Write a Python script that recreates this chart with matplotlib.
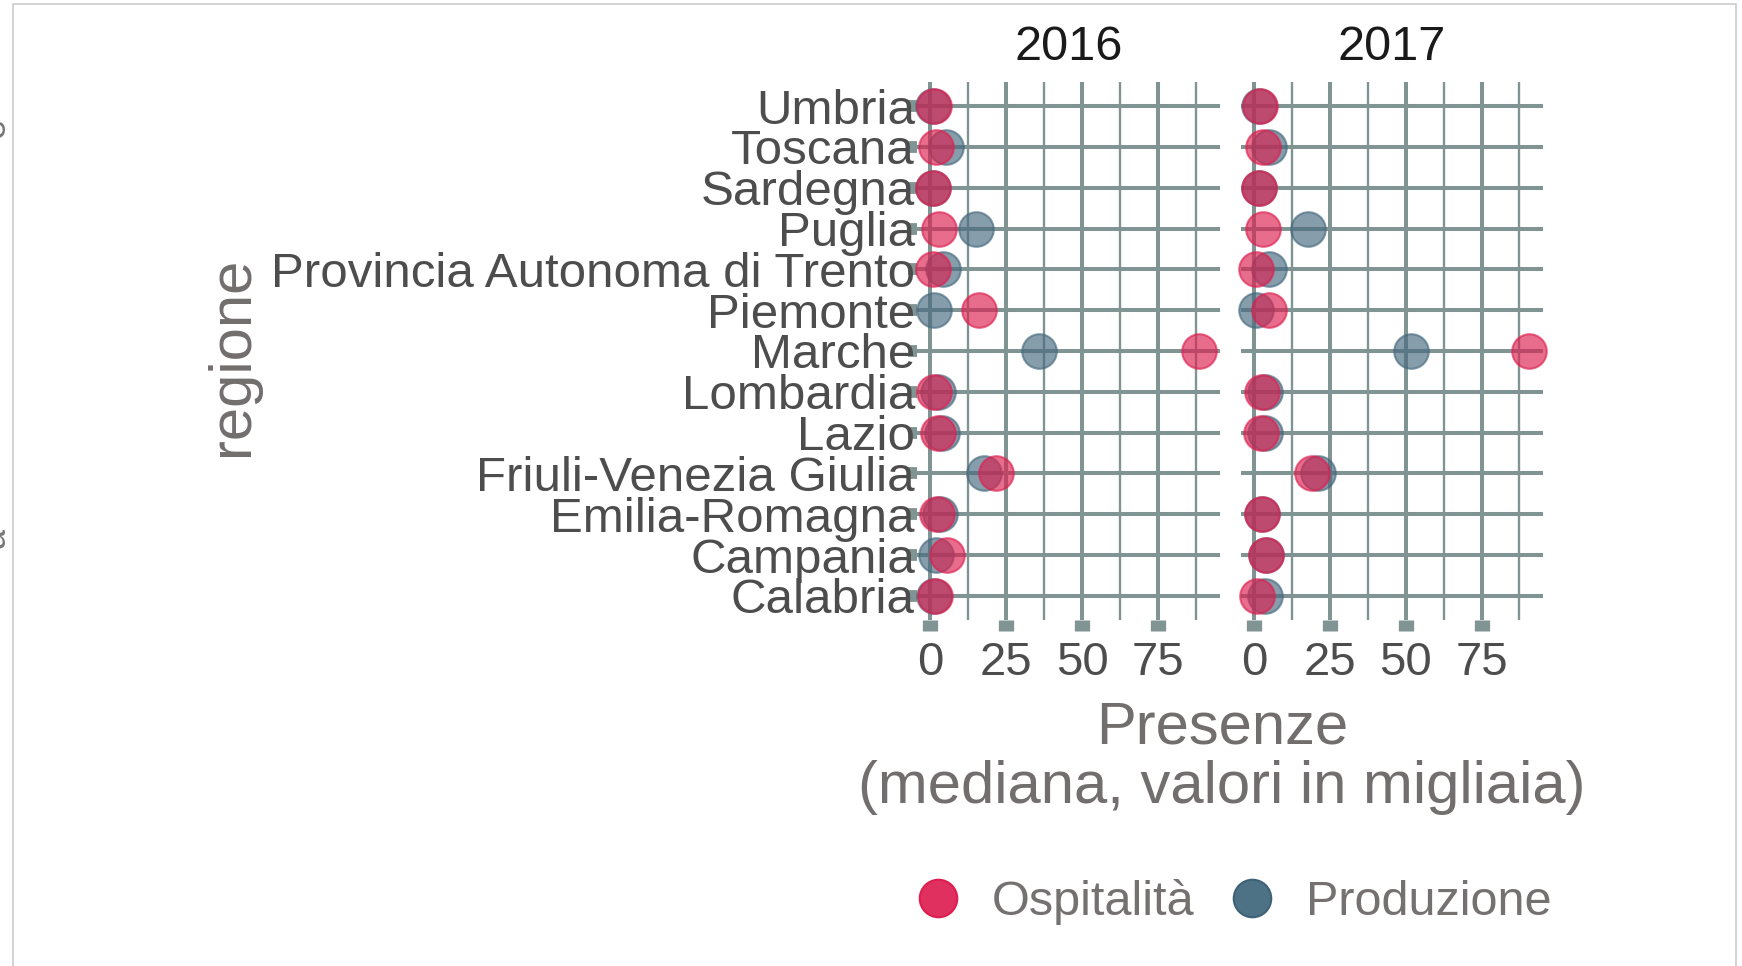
import matplotlib
matplotlib.use("Agg")
import matplotlib.pyplot as plt
from matplotlib.lines import Line2D
from matplotlib.patches import Rectangle
import numpy as np

plt.rcParams["font.family"] = ["Liberation Sans", "DejaVu Sans"]

# data (presenze, mediana, migliaia)
regioni = [
    "Calabria", "Campania", "Emilia-Romagna", "Friuli-Venezia Giulia",
    "Lazio", "Lombardia", "Marche", "Piemonte",
    "Provincia Autonoma di Trento", "Puglia", "Sardegna", "Toscana", "Umbria",
]
anni = ["2016", "2017"]
ospitalita_2016 = [1.4, 5.5, 2.3, 21.6, 2.6, 1.3, 88.3, 16.0, 0.8, 2.7, 1.0, 1.9, 1.3]
produzione_2016 = [1.2, 1.8, 3.2, 17.8, 3.8, 2.4, 35.7, 1.1, 4.3, 15.0, 1.0, 5.0, 1.0]
ospitalita_2017 = [0.9, 3.7, 2.5, 19.0, 2.1, 2.5, 90.8, 4.8, 0.7, 2.8, 1.7, 2.8, 2.0]
produzione_2017 = [3.4, 3.7, 2.5, 21.1, 3.4, 3.4, 51.6, 0.7, 5.0, 17.6, 1.4, 5.0, 1.6]
x_ticks = [0, 25, 50, 75]
x_minor = [12.5, 37.5, 62.5, 87.5]

col_osp = "#dc1f4f"
col_prod = "#46697e"
grid_col = "#809593"
title_col = "#736e6e"
tick_col = "#4d4d4d"

W, H = 1742, 966
fig = plt.figure(figsize=(W / 100, H / 100), dpi=100)


def fx(px):
    return px / W


def fy(py):
    return 1 - py / H


panels = [
    (917, 1220, ospitalita_2016, produzione_2016),
    (1241, 1543, ospitalita_2017, produzione_2017),
]
top, bottom = 82, 620
ypos = np.arange(1, len(regioni) + 1)

for i, (left, right, osp, prod) in enumerate(panels):
    ax = fig.add_axes([fx(left), fy(bottom), fx(right - left), (bottom - top) / H])
    ax.set_xlim(-4.4, 95.3)
    ax.set_ylim(0.41, 13.59)
    for s in ax.spines.values():
        s.set_visible(False)
    ax.set_xticks(x_ticks)
    ax.set_xticks(x_minor, minor=True)
    ax.set_yticks(ypos)
    ax.grid(True, which="major", axis="both", color=grid_col, lw=2.9, zorder=0)
    ax.grid(True, which="minor", axis="x", color=grid_col, lw=1.7, zorder=0)
    ax.set_axisbelow(True)
    ax.tick_params(axis="x", which="major", length=8, width=11, color=grid_col,
                   labelsize=34, labelcolor=tick_col, pad=7)
    ax.tick_params(axis="x", which="minor", length=0)
    if i == 0:
        ax.set_yticklabels(regioni)
        ax.tick_params(axis="y", length=6.5, width=8.5, color=grid_col,
                       labelsize=35.5, labelcolor=tick_col, pad=-5)
    else:
        ax.tick_params(axis="y", length=0, labelleft=False)

    ax.scatter(prod, ypos, s=620, facecolor=col_prod, edgecolor=col_prod,
               alpha=0.65, lw=1.5, zorder=3, clip_on=False)
    ax.scatter(osp, ypos, s=620, facecolor=col_osp, edgecolor=col_osp,
               alpha=0.65, lw=1.5, zorder=4, clip_on=False)
    ax.set_title(anni[i], fontsize=35, color="#1a1a1a", pad=16)

fig.text(fx(232), fy(356), "regione", rotation=90, ha="center", va="center",
         fontsize=43, color=title_col)
fig.text(fx(1222), fy(700), "Presenze\n(mediana, valori in migliaia)",
         ha="center", va="top", fontsize=43, color=title_col, linespacing=1.12)

handles = [
    Line2D([], [], ls="none", marker="o", ms=27, mfc="#e03060", mec=col_osp, mew=1.5),
    Line2D([], [], ls="none", marker="o", ms=27, mfc="#4e7285", mec="#3d6176", mew=1.5),
]
fig.legend(handles, ["Ospitalità", "Produzione"], loc="center",
           bbox_to_anchor=(fx(1235), fy(902)), ncol=2, frameon=False,
           fontsize=35, labelcolor="#767171", handlelength=0.8,
           handletextpad=0.7, columnspacing=0.8, borderpad=0)

# frame of the original screenshot and clipped glyphs at the left edge
fig.add_artist(Rectangle((fx(13), -0.02), fx(1736 - 13), fy(4) + 0.02,
                         transform=fig.transFigure, fill=False,
                         ec="#cccccc", lw=1.2))
fig.text(fx(-5), fy(128), "e", rotation=90, ha="center", va="center",
         fontsize=26, color="#777777")
fig.text(fx(-5), fy(538), "a", rotation=90, ha="center", va="center",
         fontsize=26, color="#777777")

fig.savefig("out.png", dpi=100)
